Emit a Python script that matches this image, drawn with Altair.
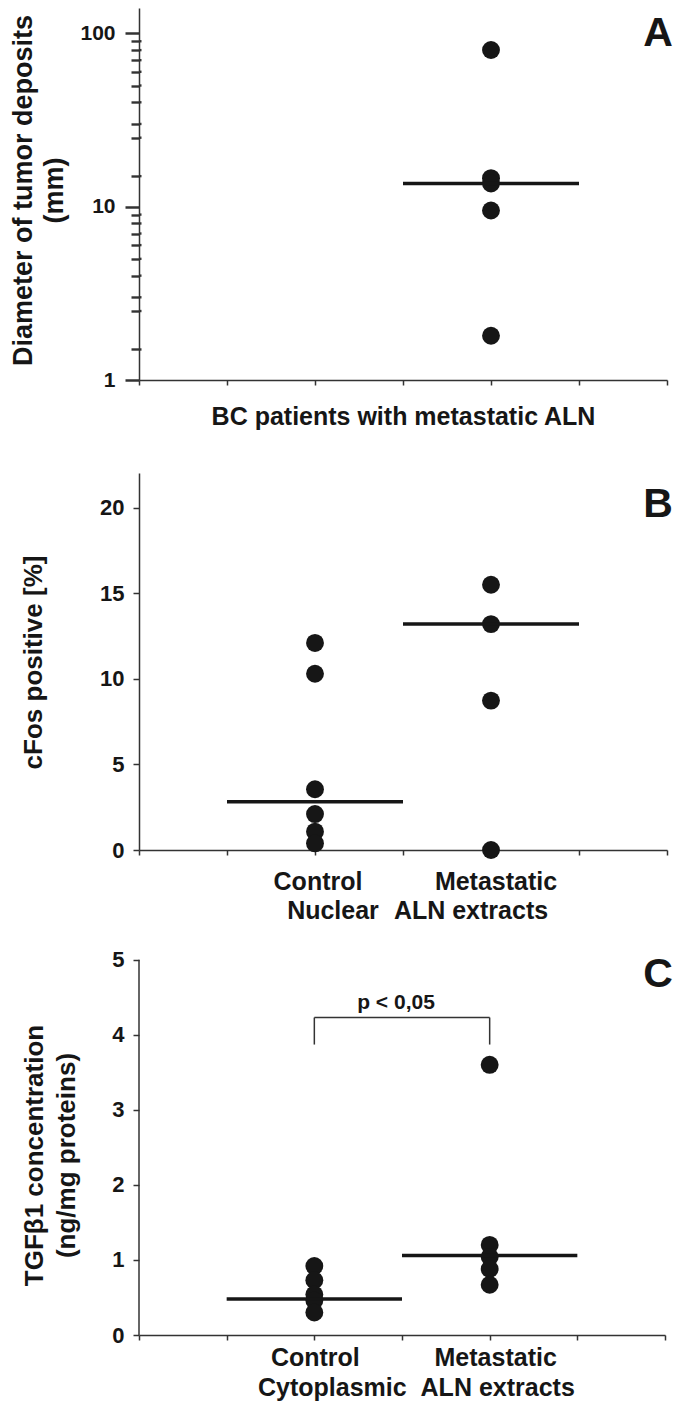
import altair as alt
import pandas as pd

FONT = "Liberation Sans"
INK = "#161616"
AXIS_C = "#333333"

# ---------------- data ----------------
slot_ticks = [0, 1, 2, 3, 4, 5, 6]
group_pos = [2, 4]

# Panel A (log scale)
a_values = [80.1, 14.6, 13.6, 9.5, 1.8]
a_median = [13.6]
a_group = [4]
a_major = [1, 10, 100]
a_minor = [1.5, 2.5, 3, 4, 5, 6, 7, 8, 9, 15, 25, 30, 40, 50, 60, 70, 80, 90]

# Panel B
b_control = [12.1, 10.3, 3.55, 2.1, 1.07, 0.39]
b_metastatic = [15.5, 13.2, 8.73, 0.0]
b_medians = [2.82, 13.2]
b_ticks = [0, 5, 10, 15, 20]
b_line1 = ["Control", "Metastatic"]
b_line2 = ["Nuclear", "ALN extracts"]

# Panel C
c_control = [0.92, 0.73, 0.54, 0.46, 0.30]
c_metastatic = [3.6, 1.2, 1.04, 0.88, 0.67]
c_medians = [0.48, 1.06]
c_ticks = [0, 1, 2, 3, 4, 5]
c_line1 = ["Control", "Metastatic"]
c_line2 = ["Cytoplasmic", "ALN extracts"]
c_bracket_top = 4.23
c_bracket_leg = 3.87
c_p_text = "p < 0,05"
c_p_y = 4.43

# small label nudges (pixels) to mimic the original typesetting
b_nudge1 = [3, 5]
b_nudge2 = [18, -20]
c_nudge1 = [1, 6]
c_nudge2 = [18, 8]

W = 528
WC = 526
HA, HB, HC = 372, 377, 392

xscale = alt.Scale(domain=[0, 6], nice=False, zero=False)


def x_axis(title=None, title_pad=0):
    kw = dict(values=slot_ticks, labels=False, tickSize=5, grid=False)
    if title is not None:
        kw.update(title=title, titlePadding=title_pad, titleFontSize=25)
    else:
        kw.update(title=None)
    return alt.Axis(**kw)


def points_df(groups, series):
    rows = []
    for g, vals in zip(groups, series):
        for v in vals:
            rows.append({"slot": g, "v": v})
    return pd.DataFrame(rows)


def letter(txt, xpix, y):
    return alt.Chart(pd.DataFrame({"t": [txt]})).mark_text(
        font=FONT, fontSize=41, fontWeight="bold", color=INK,
        align="center", baseline="top"
    ).encode(x=alt.value(xpix), y=alt.value(y), text="t:N")


def xlabels(groups, l1, l2, n1, n2, h, y1, y2, w):
    df = pd.DataFrame({"slot": groups, "l1": l1, "l2": l2, "n1": n1, "n2": n2})
    ppu = w / (slot_ticks[-1] - slot_ticks[0])
    base = alt.Chart(df).transform_calculate(
        s1=f"datum.slot + datum.n1 / {ppu}", s2=f"datum.slot + datum.n2 / {ppu}")
    t1 = base.mark_text(font=FONT, fontSize=25, fontWeight="bold", color=INK,
                        baseline="middle", align="center").encode(
        x=alt.X("s1:Q", scale=xscale), y=alt.value(h + y1), text="l1:N")
    t2 = base.mark_text(font=FONT, fontSize=25, fontWeight="bold", color=INK,
                        baseline="middle", align="center").encode(
        x=alt.X("s2:Q", scale=xscale), y=alt.value(h + y2), text="l2:N")
    return [t1, t2]


# ---------------- Panel A ----------------
a_df = points_df(a_group, [a_values])
a_med_df = pd.DataFrame({"slot": a_group, "m": a_median})
a_yscale = alt.Scale(type="log", domain=[1, 140], nice=False)
is_major = "indexof([1,10,100], datum.value) >= 0"
a_yaxis = alt.Axis(
    values=sorted(a_major + a_minor),
    labelExpr=f"{is_major} ? format(datum.value, 'd') : ''",
    tickSize={"condition": {"test": is_major, "value": 14}, "value": 8},
    tickWidth={"condition": {"test": is_major, "value": 2.5}, "value": 2.4},
    labelPadding=10, labelFontSize=21,
    title=["Diameter of tumor deposits", "(mm)"], titleX=-102, titleY=182,
    titleFontSize=27, titleLineHeight=31, grid=False,
)
a_pts = alt.Chart(a_df).mark_circle(size=320, color=INK, opacity=1).encode(
    x=alt.X("slot:Q", scale=xscale, axis=x_axis("BC patients with metastatic ALN", 19)),
    y=alt.Y("v:Q", scale=a_yscale, axis=a_yaxis),
)
# minor ticks of the log axis cross the axis line slightly
a_minor_stub = alt.Chart(pd.DataFrame({"v": a_minor})).mark_rule(
    color=AXIS_C, strokeWidth=2.4).encode(
    x=alt.value(0), x2=alt.value(2.5), y=alt.Y("v:Q", scale=a_yscale))
a_med = alt.Chart(a_med_df).transform_calculate(
    lo="datum.slot - 1", hi="datum.slot + 1"
).mark_rule(color=INK, strokeWidth=3.5).encode(
    x=alt.X("lo:Q", scale=xscale), x2="hi:Q", y=alt.Y("m:Q", scale=a_yscale))
panel_a = alt.layer(a_pts, a_minor_stub, a_med, letter("A", W - 9, 6)).properties(width=W, height=HA)

# ---------------- Panel B ----------------
b_df = points_df(group_pos, [b_control, b_metastatic])
b_med_df = pd.DataFrame({"slot": group_pos, "m": b_medians})
b_yscale = alt.Scale(domain=[0, 22.03], nice=False, zero=False)
b_yaxis = alt.Axis(values=b_ticks, tickSize=6, labelPadding=9, labelFontSize=22,
                   title="cFos positive [%]", titleX=-93, titleY=189, titleFontSize=26,
                   grid=False)
b_pts = alt.Chart(b_df).mark_circle(size=320, color=INK, opacity=1).encode(
    x=alt.X("slot:Q", scale=xscale, axis=x_axis()),
    y=alt.Y("v:Q", scale=b_yscale, axis=b_yaxis),
)
b_med = alt.Chart(b_med_df).transform_calculate(
    lo="datum.slot - 1", hi="datum.slot + 1"
).mark_rule(color=INK, strokeWidth=3.5).encode(
    x=alt.X("lo:Q", scale=xscale), x2="hi:Q", y=alt.Y("m:Q", scale=b_yscale))
panel_b = alt.layer(
    b_pts, b_med, *xlabels(group_pos, b_line1, b_line2, b_nudge1, b_nudge2, HB, 32, 61, W),
    letter("B", W - 9, 12)
).properties(width=W, height=HB)

# ---------------- Panel C ----------------
c_df = points_df(group_pos, [c_control, c_metastatic])
c_med_df = pd.DataFrame({"slot": group_pos, "m": c_medians})
c_yscale = alt.Scale(domain=[0, 5.223], nice=False, zero=False)
c_yaxis = alt.Axis(values=c_ticks, format="d", tickSize=6, labelPadding=9, labelFontSize=22,
                   domain=False,
                   title=["TGFβ1 concentration", "(ng/mg proteins)"], titleX=-92,
                   titleY=212, titleFontSize=26, titleLineHeight=32, grid=False)
c_pts = alt.Chart(c_df).mark_circle(size=320, color=INK, opacity=1).encode(
    x=alt.X("slot:Q", scale=xscale, axis=x_axis()),
    y=alt.Y("v:Q", scale=c_yscale, axis=c_yaxis),
)
c_med = alt.Chart(c_med_df).transform_calculate(
    lo="datum.slot - 1", hi="datum.slot + 1"
).mark_rule(color=INK, strokeWidth=3.5).encode(
    x=alt.X("lo:Q", scale=xscale), x2="hi:Q", y=alt.Y("m:Q", scale=c_yscale))
c_axisline = alt.Chart(pd.DataFrame({"lo": [min(c_ticks)], "hi": [max(c_ticks)]})).mark_rule(
    color=AXIS_C, strokeWidth=1.5).encode(
    x=alt.value(0), y=alt.Y("lo:Q", scale=c_yscale), y2="hi:Q")
br_h = alt.Chart(pd.DataFrame({"a": [group_pos[0]], "b": [group_pos[1]], "y": [c_bracket_top]})).mark_rule(
    color=AXIS_C, strokeWidth=1.5).encode(
    x=alt.X("a:Q", scale=xscale), x2="b:Q", y=alt.Y("y:Q", scale=c_yscale))
br_v = alt.Chart(pd.DataFrame({"slot": group_pos, "lo": [c_bracket_leg] * 2,
                               "hi": [c_bracket_top] * 2})).mark_rule(
    color=AXIS_C, strokeWidth=1.5).encode(
    x=alt.X("slot:Q", scale=xscale), y=alt.Y("lo:Q", scale=c_yscale), y2="hi:Q")
p_txt = alt.Chart(pd.DataFrame({"slot": [sum(group_pos) / 2], "y": [c_p_y], "t": [c_p_text]})).mark_text(
    font=FONT, fontSize=21, fontWeight="bold", color=INK, baseline="middle", align="center", dx=-6
).encode(x=alt.X("slot:Q", scale=xscale), y=alt.Y("y:Q", scale=c_yscale), text="t:N")
panel_c = alt.layer(
    c_axisline, br_h, br_v, p_txt, c_pts, c_med,
    *xlabels(group_pos, c_line1, c_line2, c_nudge1, c_nudge2, HC, 23, 53, WC),
    letter("C", W - 9, 12)
).properties(width=WC, height=HC)

chart = alt.vconcat(panel_a, panel_b, panel_c, spacing=93, bounds="flush").configure(
    padding=0, background="white"
).configure_view(stroke=None).configure_axis(
    labelFont=FONT, labelFontWeight="bold", labelColor=INK,
    titleFont=FONT, titleFontWeight="bold", titleColor=INK, titleFontSize=24,
    domainColor=AXIS_C, tickColor=AXIS_C, domainWidth=1.5, tickWidth=1.5,
)

chart.save("out.html", embed_options={"renderer": "svg", "actions": False})
